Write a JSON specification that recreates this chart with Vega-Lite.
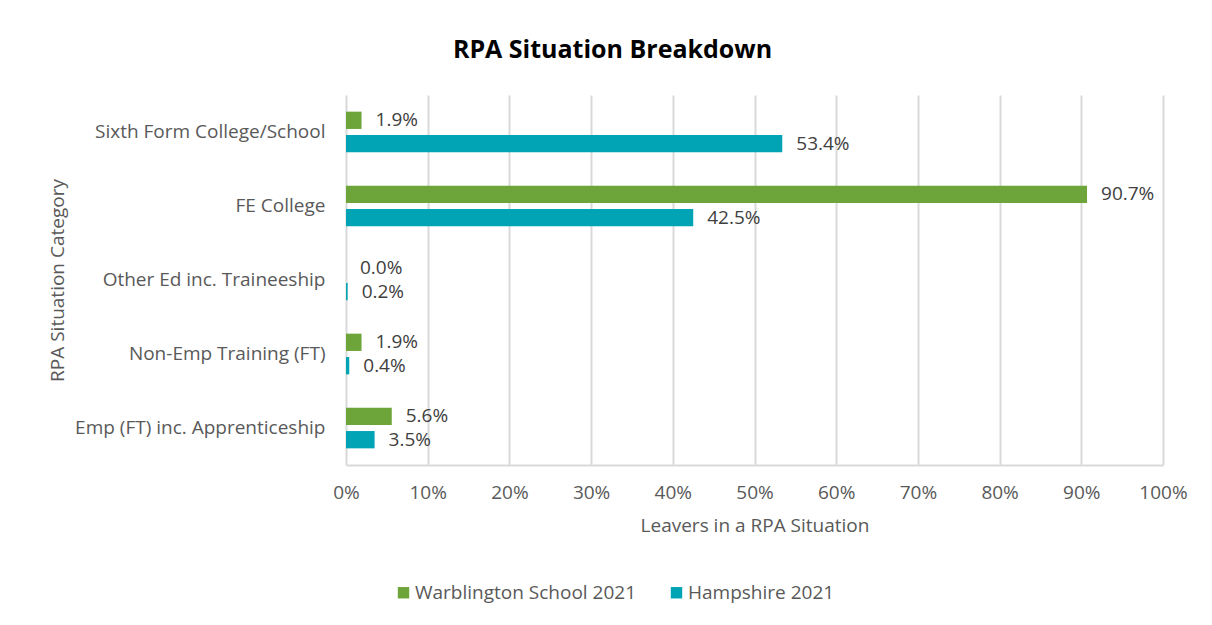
{
  "$schema": "https://vega.github.io/schema/vega-lite/v6.json",
  "width": 817,
  "height": 370,
  "autosize": {"type": "none"},
  "padding": {"left": 346, "top": 95, "right": 49, "bottom": 160},
  "background": "white",
  "title": {
    "text": "RPA Situation Breakdown",
    "font": "Open Sans",
    "fontSize": 25,
    "fontWeight": "bold",
    "color": "#000000",
    "anchor": "middle",
    "frame": "group",
    "dx": -142,
    "offset": 32
  },
  "data": {
    "values": [
      {"category": "Sixth Form College/School", "series": "Warblington School 2021", "value": 0.019},
      {"category": "Sixth Form College/School", "series": "Hampshire 2021", "value": 0.534},
      {"category": "FE College", "series": "Warblington School 2021", "value": 0.907},
      {"category": "FE College", "series": "Hampshire 2021", "value": 0.425},
      {"category": "Other Ed inc. Traineeship", "series": "Warblington School 2021", "value": 0.0},
      {"category": "Other Ed inc. Traineeship", "series": "Hampshire 2021", "value": 0.002},
      {"category": "Non-Emp Training (FT)", "series": "Warblington School 2021", "value": 0.019},
      {"category": "Non-Emp Training (FT)", "series": "Hampshire 2021", "value": 0.004},
      {"category": "Emp (FT) inc. Apprenticeship", "series": "Warblington School 2021", "value": 0.056},
      {"category": "Emp (FT) inc. Apprenticeship", "series": "Hampshire 2021", "value": 0.035}
    ]
  },
  "encoding": {
    "y": {
      "field": "category",
      "type": "nominal",
      "sort": ["Sixth Form College/School", "FE College", "Other Ed inc. Traineeship", "Non-Emp Training (FT)", "Emp (FT) inc. Apprenticeship"],
      "scale": {"paddingInner": 0.45, "paddingOuter": 0.225},
      "axis": {
        "title": "RPA Situation Category",
        "titleFont": "Open Sans",
        "titleFontSize": 19,
        "titleFontWeight": "normal",
        "titleColor": "#595959",
        "titleX": -289,
        "titleY": 185,
        "titleAngle": -90,
        "titleAlign": "center",
        "titleBaseline": "middle",
        "labelFont": "Open Sans",
        "labelFontSize": 19,
        "labelColor": "#595959",
        "labelPadding": 21,
        "labelLimit": 0,
        "ticks": false,
        "domain": false,
        "grid": false
      }
    },
    "yOffset": {
      "field": "series",
      "type": "nominal",
      "sort": ["Warblington School 2021", "Hampshire 2021"],
      "scale": {"paddingInner": 0.26, "paddingOuter": 0}
    },
    "x": {
      "field": "value",
      "type": "quantitative",
      "scale": {"domain": [0, 1], "nice": false},
      "axis": {
        "title": "Leavers in a RPA Situation",
        "titleFont": "Open Sans",
        "titleFontSize": 19,
        "titleFontWeight": "normal",
        "titleColor": "#595959",
        "titlePadding": 14,
        "labelFont": "Open Sans",
        "labelFontSize": 19,
        "labelColor": "#595959",
        "labelPadding": 18,
        "labelFlush": false,
        "values": [0, 0.1, 0.2, 0.3, 0.4, 0.5, 0.6, 0.7, 0.8, 0.9, 1],
        "format": ".0%",
        "ticks": false,
        "domain": true,
        "domainColor": "#d9d9d9",
        "domainWidth": 2,
        "grid": true,
        "gridColor": "#d9d9d9",
        "gridWidth": 2
      }
    }
  },
  "layer": [
    {
      "mark": {"type": "bar"},
      "encoding": {
        "color": {
          "field": "series",
          "type": "nominal",
          "sort": ["Warblington School 2021", "Hampshire 2021"],
          "scale": {"domain": ["Warblington School 2021", "Hampshire 2021"], "range": ["#6ea53a", "#00a4b5"]},
          "legend": {
            "title": null,
            "orient": "none",
            "direction": "horizontal",
            "legendX": 48,
            "legendY": 488,
            "symbolType": "square",
            "symbolSize": 130,
            "symbolStrokeWidth": 0,
            "labelFont": "Open Sans",
            "labelFontSize": 19,
            "labelColor": "#595959",
            "labelOffset": 2,
            "labelLimit": 0,
            "columnPadding": 30
          }
        }
      }
    },
    {
      "mark": {"type": "text", "align": "left", "baseline": "middle", "dx": 14, "font": "Open Sans", "fontSize": 19, "color": "#404040"},
      "encoding": {
        "text": {"field": "value", "type": "quantitative", "format": ".1%"}
      }
    }
  ],
  "config": {"view": {"stroke": null}}
}
